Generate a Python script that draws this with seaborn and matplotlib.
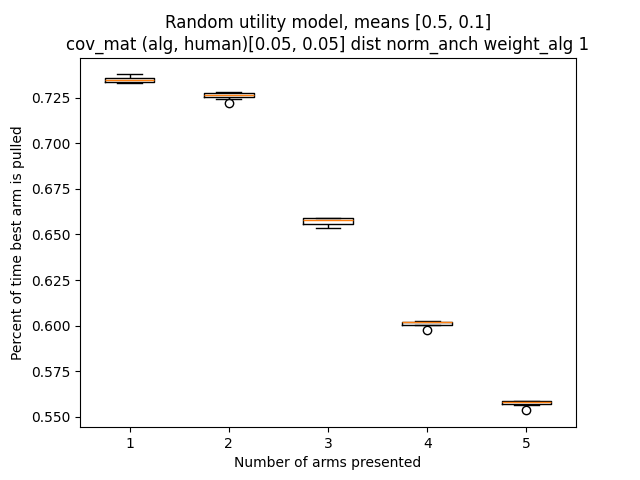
"""
Boxplot of how often the best arm gets pulled, by number of arms shown
"""

import pandas as pd
import seaborn as sns
import matplotlib
matplotlib.use('Agg')
import matplotlib.pyplot as plt

# values, one list per number of arms
arms = [1, 2, 3, 4, 5]
pct_arm1 = [0.7331, 0.7333, 0.7336, 0.7342, 0.7348, 0.7352, 0.7357, 0.7365, 0.7378]
pct_arm2 = [0.7221, 0.7243, 0.7255, 0.7260, 0.7265, 0.7270, 0.7274, 0.7278, 0.7283]
pct_arm3 = [0.6535, 0.6545, 0.6557, 0.6570, 0.6582, 0.6585, 0.6588, 0.6588, 0.6589]
pct_arm4 = [0.5977, 0.6001, 0.6004, 0.6012, 0.6019, 0.6020, 0.6021, 0.6022, 0.6023]
pct_arm5 = [0.5535, 0.5564, 0.5571, 0.5576, 0.5581, 0.5585, 0.5588, 0.5589, 0.5589]

# long form table for seaborn
all_vals = [pct_arm1, pct_arm2, pct_arm3, pct_arm4, pct_arm5]
df = pd.DataFrame({
    'arms': [str(a) for a, v in zip(arms, all_vals) for _ in v],
    'pct': [x for v in all_vals for x in v],
})

fig, ax = plt.subplots(figsize=(6.4, 4.8), dpi=100)

sns.boxplot(data=df, x='arms', y='pct', ax=ax, width=0.5, whis=1.5,
            fill=False, color='black', linewidth=1,
            medianprops={'color': '#ff7f0e', 'linewidth': 1},
            flierprops={'marker': 'o', 'markerfacecolor': 'none',
                        'markeredgecolor': 'black', 'markersize': 6})

ax.set_title('Random utility model, means [0.5, 0.1]\n'
             'cov_mat (alg, human)[0.05, 0.05] dist norm_anch weight_alg 1')
ax.set_xlabel('Number of arms presented')
ax.set_ylabel('Percent of time best arm is pulled')

fig.savefig('out.png')
